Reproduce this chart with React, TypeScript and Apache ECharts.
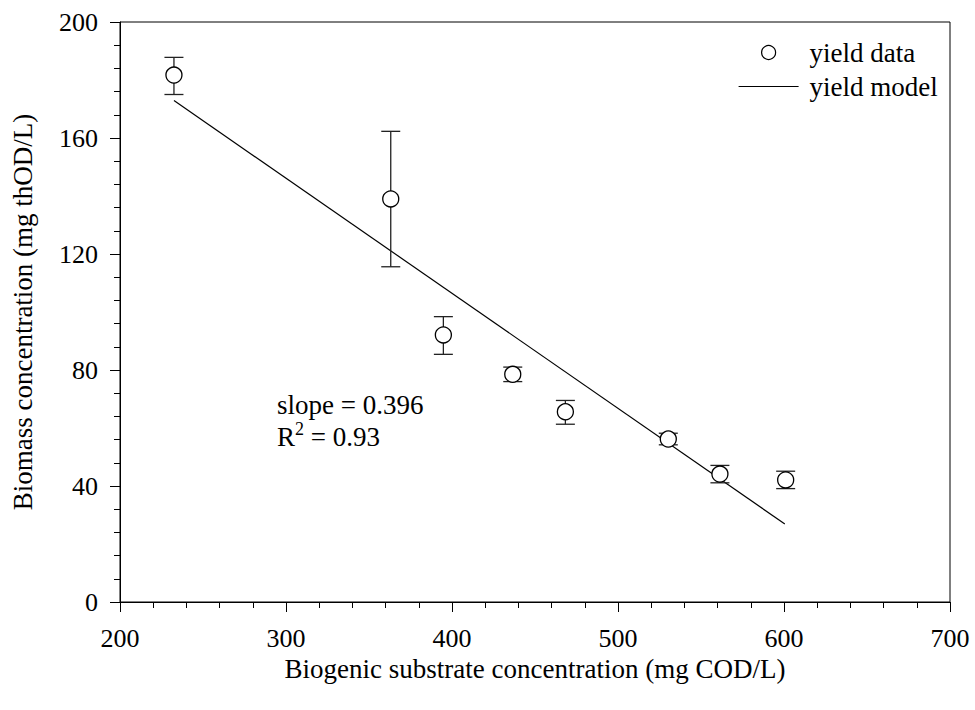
import React, { useEffect, useRef } from "react";
import * as echarts from "echarts";

const substrate = [232.5, 363.1, 394.8, 436.6, 468.3, 530.3, 561.4, 601.0];
const biomass = [181.7, 139.0, 92.1, 78.5, 65.6, 56.2, 44.1, 42.1];
const errLow = [175.0, 115.6, 85.4, 76.0, 61.3, 54.2, 41.1, 39.1];
const errHigh = [187.8, 162.3, 98.4, 81.0, 69.5, 58.2, 47.1, 45.1];
const modelX = [232.5, 600.5];
const modelY = [172.9, 26.9];
const xTicks = [200, 300, 400, 500, 600, 700];
const yTicks = [0, 40, 80, 120, 160, 200];

const FONT = "Liberation Serif";

export default function App() {
  const ref = useRef<HTMLDivElement>(null);
  useEffect(() => {
    if (!ref.current) return;
    const chart = echarts.init(ref.current, undefined, { renderer: "svg" });
    const errData = substrate.map((x, i) => [x, errLow[i], errHigh[i]]);
    const pts = substrate.map((x, i) => [x, biomass[i]]);
    const model = modelX.map((x, i) => [x, modelY[i]]);
    chart.setOption({
      animation: false,
      backgroundColor: "#fff",
      textStyle: { fontFamily: FONT, color: "#000" },
      grid: {
        left: 120,
        right: 25,
        top: 22,
        bottom: 108,
        show: true,
        borderColor: "#000",
        borderWidth: 1,
        backgroundColor: "transparent",
      },
      legend: {
        orient: "vertical",
        left: 733,
        top: 34,
        itemWidth: 60,
        itemHeight: 14,
        itemGap: 7,
        textStyle: { fontFamily: FONT, fontSize: 27, color: "#000", padding: [0, 0, 0, 6] },
        data: [
          { name: "yield data", icon: "circle", itemStyle: { color: "#fff", borderColor: "#000", borderWidth: 1.2 } },
          { name: "yield model", itemStyle: { opacity: 0 }, lineStyle: { color: "#000", width: 1.2 } },
        ],
      },
      xAxis: {
        type: "value",
        min: xTicks[0],
        max: xTicks[xTicks.length - 1],
        interval: 100,
        name: "Biogenic substrate concentration (mg COD/L)",
        nameLocation: "middle",
        nameGap: 43,
        nameTextStyle: { fontFamily: FONT, fontSize: 27, color: "#000" },
        axisLine: { show: true, lineStyle: { color: "#000", width: 1 } },
        axisTick: { show: true, length: 10, lineStyle: { color: "#000" } },
        minorTick: { show: true, splitNumber: 5, length: 6, lineStyle: { color: "#000" } },
        splitLine: { show: false },
        axisLabel: { fontFamily: FONT, fontSize: 26, color: "#000", margin: 23 },
      },
      yAxis: {
        type: "value",
        min: yTicks[0],
        max: yTicks[yTicks.length - 1],
        interval: 40,
        name: "Biomass concentration (mg thOD/L)",
        nameLocation: "middle",
        nameGap: 84,
        nameTextStyle: { fontFamily: FONT, fontSize: 27, color: "#000" },
        axisLine: { show: true, lineStyle: { color: "#000", width: 1 } },
        axisTick: { show: true, length: 10, lineStyle: { color: "#000" } },
        minorTick: { show: true, splitNumber: 5, length: 6, lineStyle: { color: "#000" } },
        splitLine: { show: false },
        axisLabel: { fontFamily: FONT, fontSize: 26, color: "#000", margin: 22 },
      },
      series: [
        {
          name: "yield model",
          type: "line",
          data: model,
          symbol: "none",
          lineStyle: { color: "#000", width: 1.2 },
          itemStyle: { color: "#000" },
          z: 2,
        },
        {
          name: "error",
          type: "custom",
          data: errData,
          z: 3,
          renderItem: (params: any, api: any) => {
            const x = api.value(0);
            const lo = api.coord([x, api.value(1)]);
            const hi = api.coord([x, api.value(2)]);
            const hw = 9.5;
            const st = { stroke: "#222", lineWidth: 1.3 };
            return {
              type: "group",
              children: [
                { type: "line", shape: { x1: lo[0], y1: lo[1], x2: hi[0], y2: hi[1] }, style: st },
                { type: "line", shape: { x1: lo[0] - hw, y1: lo[1], x2: lo[0] + hw, y2: lo[1] }, style: st },
                { type: "line", shape: { x1: hi[0] - hw, y1: hi[1], x2: hi[0] + hw, y2: hi[1] }, style: st },
              ],
            };
          },
        },
        {
          name: "yield data",
          type: "scatter",
          data: pts,
          symbol: "circle",
          symbolSize: 16,
          itemStyle: { color: "#fff", borderColor: "#000", borderWidth: 1.3, opacity: 1 },
          z: 4,
        },
      ],
      graphic: [
        {
          type: "text",
          left: 277,
          top: 391,
          style: { text: "slope = 0.396", fontFamily: FONT, fontSize: 27, fill: "#000" },
        },
        {
          type: "text",
          left: 277,
          top: 420,
          style: {
            text: "{a|R}{s|2}{a| = 0.93}",
            fill: "#000",
            rich: {
              a: { fontFamily: FONT, fontSize: 27, lineHeight: 34, verticalAlign: "middle", fill: "#000" },
              s: { fontFamily: FONT, fontSize: 18, lineHeight: 12, verticalAlign: "top", fill: "#000" },
            },
          },
        },
      ],
    });
    return () => chart.dispose();
  }, []);
  return <div ref={ref} style={{ position: "fixed", left: 0, top: 0, width: 975, height: 710 }} />;
}
